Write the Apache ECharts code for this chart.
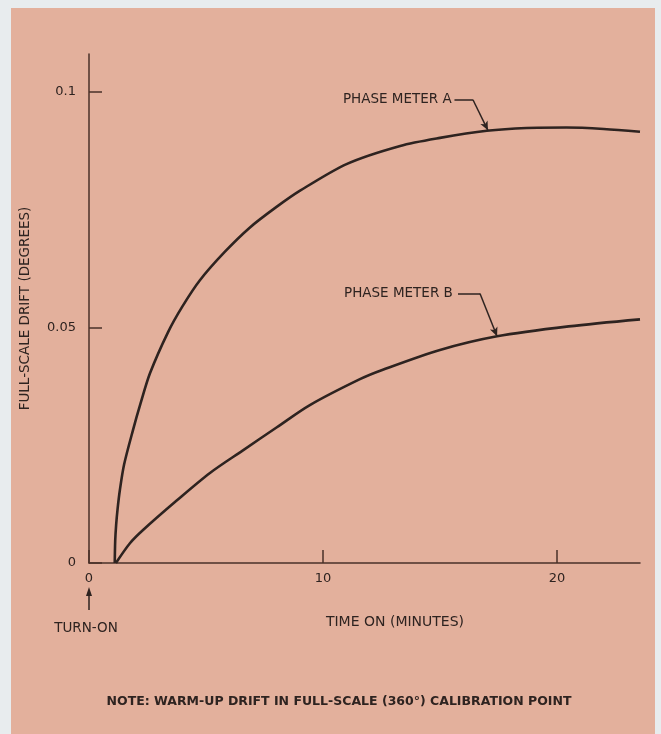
<!DOCTYPE html>
<html>
<head>
<meta charset="utf-8">
<script src="https://cdn.jsdelivr.net/npm/echarts@6/dist/echarts.min.js"></script>
<style>
  html, body { margin: 0; padding: 0; background: #e8ecee; }
  #chart { width: 661px; height: 734px; }
</style>
</head>
<body>
<div id="chart"></div>
<script>
// time on (minutes) and drift (degrees)
const meterATime = [1.1, 1.12, 1.16, 1.22, 1.32, 1.5, 1.88, 2.2, 2.61, 3.38, 4.0, 4.74, 5.8, 6.88, 8.0, 9.02, 11.03, 13.3, 15.0, 17.0, 18.7, 20.4, 22.0, 23.55];
const meterADrift = [0, 0.0047, 0.0081, 0.0114, 0.0155, 0.0209, 0.0282, 0.0338, 0.0403, 0.049, 0.0545, 0.060, 0.066, 0.0712, 0.0755, 0.079, 0.0847, 0.0885, 0.0902, 0.0917, 0.0923, 0.0924, 0.0921, 0.0915];

const meterBTime = [1.15, 1.75, 2.31, 3.76, 5.17, 6.58, 8.03, 9.44, 11.58, 12.56, 15.0, 17.44, 20.5, 23.55];
const meterBDrift = [0, 0.0042, 0.007, 0.0133, 0.0191, 0.0239, 0.0288, 0.0335, 0.039, 0.041, 0.0452, 0.0481, 0.0502, 0.0517];

const xTicks = [0, 10, 20];
const yTicks = [0, 0.05, 0.1];

// label anchor (right end of text) and leader line points, in data units
const labelA = { text: 'PHASE METER A', at: [15.5, 0.0983], leader: [[15.62, 0.0983], [16.41, 0.0983], [17.05, 0.0918]] };
const labelB = { text: 'PHASE METER B', at: [15.55, 0.0572], leader: [[15.77, 0.0572], [16.71, 0.0572], [17.44, 0.0481]] };

const ink = '#2e2320';
const axisInk = '#4a3029';
const font = '"DejaVu Sans", "Liberation Sans", sans-serif';

function toPairs(xs, ys) {
  return xs.map((x, i) => [x, ys[i]]);
}

function leaderLines(lbl) {
  const p = lbl.leader;
  return {
    silent: true,
    animation: false,
    lineStyle: { color: ink, width: 1.5, type: 'solid' },
    label: { show: false },
    data: [
      [{ coord: p[0], symbol: 'none' }, { coord: p[1], symbol: 'none' }],
      [{ coord: p[1], symbol: 'none' }, { coord: p[2], symbol: 'arrow', symbolSize: [6, 9] }]
    ]
  };
}

function labelPoint(lbl) {
  return {
    silent: true,
    animation: false,
    symbol: 'circle',
    symbolSize: 0,
    label: {
      show: true,
      position: 'left',
      distance: 0,
      formatter: lbl.text,
      color: ink,
      fontSize: 13.5,
      fontFamily: font
    },
    data: [{ coord: lbl.at }]
  };
}

var chartDom = document.getElementById('chart');
var myChart = echarts.init(chartDom);

const option = {
  animation: false,
  backgroundColor: '#e8ecee',
  grid: { left: 89, right: 21, top: 54, bottom: 171 },
  xAxis: {
    type: 'value',
    min: 0,
    max: 23.55,
    axisLine: { show: true, onZero: false, lineStyle: { color: axisInk, width: 1.5 } },
    axisTick: { show: true, inside: true, length: 13, customValues: xTicks, lineStyle: { color: axisInk, width: 1.5 } },
    axisLabel: { customValues: xTicks, margin: 9, color: ink, fontSize: 13, fontFamily: font },
    splitLine: { show: false }
  },
  yAxis: {
    type: 'value',
    min: 0,
    max: 0.108,
    name: 'FULL-SCALE DRIFT (DEGREES)',
    nameLocation: 'middle',
    nameGap: 57,
    nameTextStyle: { color: ink, fontSize: 13.5, fontFamily: font },
    axisLine: { show: true, lineStyle: { color: axisInk, width: 1.5 } },
    axisTick: { show: true, inside: true, length: 13, customValues: yTicks, lineStyle: { color: axisInk, width: 1.5 } },
    axisLabel: {
      customValues: yTicks,
      margin: 13,
      color: ink,
      fontSize: 13,
      fontFamily: font,
      formatter: v => (v === 0 ? '0' : String(v))
    },
    splitLine: { show: false }
  },
  series: [
    {
      name: 'Phase Meter A',
      type: 'line',
      data: toPairs(meterATime, meterADrift),
      smooth: 0.3,
      showSymbol: false,
      lineStyle: { color: ink, width: 2.6 },
      markLine: leaderLines(labelA),
      markPoint: labelPoint(labelA)
    },
    {
      name: 'Phase Meter B',
      type: 'line',
      data: toPairs(meterBTime, meterBDrift),
      smooth: 0.3,
      showSymbol: false,
      lineStyle: { color: ink, width: 2.6 },
      markLine: leaderLines(labelB),
      markPoint: labelPoint(labelB)
    }
  ]
};

myChart.setOption(option);

// paper, turn-on arrow and captions
const origin = myChart.convertToPixel({ gridIndex: 0 }, [0, 0]);
myChart.setOption({
  graphic: [
    {
      type: 'rect', z: -10, silent: true,
      shape: { x: 11, y: 8, width: 644, height: 726 },
      style: { fill: '#e3b09c' }
    },
    {
      type: 'line', silent: true,
      shape: { x1: origin[0], y1: origin[1] + 47, x2: origin[0], y2: origin[1] + 30 },
      style: { stroke: ink, lineWidth: 1.5 }
    },
    {
      type: 'polygon', silent: true,
      shape: { points: [[origin[0], origin[1] + 24], [origin[0] - 3, origin[1] + 33], [origin[0] + 3, origin[1] + 33]] },
      style: { fill: ink }
    },
    {
      type: 'text', silent: true,
      x: origin[0] - 3, y: origin[1] + 65,
      style: { text: 'TURN-ON', fill: ink, font: '13.5px ' + font, align: 'center', verticalAlign: 'middle' }
    },
    {
      type: 'text', silent: true,
      x: 395, y: origin[1] + 59,
      style: { text: 'TIME ON (MINUTES)', fill: ink, font: '14px ' + font, align: 'center', verticalAlign: 'middle' }
    },
    {
      type: 'text', silent: true,
      x: 339, y: 702,
      style: { text: 'NOTE: WARM-UP DRIFT IN FULL-SCALE (360°) CALIBRATION POINT', fill: ink, font: 'bold 12.5px ' + font, align: 'center', verticalAlign: 'middle' }
    }
  ]
});

window.addEventListener('resize', function () {
  myChart.resize();
});
</script>
</body>
</html>
